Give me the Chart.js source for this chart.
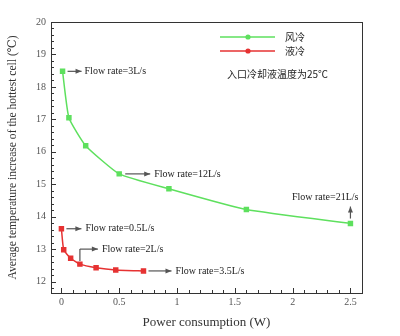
<!DOCTYPE html>
<html>
<head>
<meta charset="utf-8">
<script src="https://cdn.jsdelivr.net/npm/chart.js@4.4.1/dist/chart.umd.min.js"></script>
<style>
  html, body { margin: 0; padding: 0; background: #fff; }
  #wrap { width: 400px; height: 336px; }
</style>
</head>
<body>
<div id="wrap"><canvas id="chart"></canvas></div>
<script>
// air cooling (风冷) vs liquid cooling (液冷)
const airPower = [0.01, 0.065, 0.21, 0.5, 0.93, 1.6, 2.5];
const airTemp = [18.48, 17.05, 16.19, 15.32, 14.86, 14.22, 13.79];
const liquidPower = [0.0, 0.02, 0.08, 0.16, 0.3, 0.47, 0.71];
const liquidTemp = [13.63, 12.98, 12.72, 12.54, 12.43, 12.36, 12.33];
const xTicks = [0, 0.5, 1, 1.5, 2, 2.5];
const yTicks = [12, 13, 14, 15, 16, 17, 18, 19, 20];

const GREEN = '#5ee05e';
const RED = '#e63232';
const SERIF = '"Liberation Serif", "DejaVu Serif", serif';
const SANS = '"Noto Sans CJK SC", "Noto Sans", sans-serif';

function toPoints(xs, ys) {
    return xs.map((x, i) => ({ x, y: ys[i] }));
}

function arrow(ctx, x1, y1, x2, y2) {
    ctx.beginPath();
    ctx.moveTo(x1, y1);
    ctx.lineTo(x2, y2);
    ctx.stroke();
    const a = Math.atan2(y2 - y1, x2 - x1);
    ctx.beginPath();
    ctx.moveTo(x2, y2);
    ctx.lineTo(x2 - 6 * Math.cos(a) + 2.5 * Math.sin(a), y2 - 6 * Math.sin(a) - 2.5 * Math.cos(a));
    ctx.lineTo(x2 - 6 * Math.cos(a) - 2.5 * Math.sin(a), y2 - 6 * Math.sin(a) + 2.5 * Math.cos(a));
    ctx.closePath();
    ctx.fill();
}

// frame, inward minor ticks, flow-rate notes and the legend box
const decor = {
    id: 'decor',
    afterDatasetsDraw(chart) {
        const { ctx, chartArea: a, scales: { x, y } } = chart;
        ctx.save();
        ctx.strokeStyle = '#333';
        ctx.lineWidth = 1;
        ctx.strokeRect(a.left + 0.5, a.top + 0.5, a.right - a.left, a.bottom - a.top);

        ctx.beginPath();
        for (let v = 0; v <= 2.6; v += 0.1) {
            const px = Math.round(x.getPixelForValue(v)) + 0.5;
            const major = Math.abs(v * 2 - Math.round(v * 2)) < 1e-6;
            ctx.moveTo(px, a.bottom);
            ctx.lineTo(px, a.bottom - (major ? 5 : 3));
        }
        for (let v = 11.8; v <= 20.001; v += 0.2) {
            const py = Math.round(y.getPixelForValue(v)) + 0.5;
            const major = Math.abs(v - Math.round(v)) < 1e-6;
            ctx.moveTo(a.left, py);
            ctx.lineTo(a.left + (major ? 5 : 3), py);
        }
        ctx.stroke();

        // flow-rate annotations
        ctx.strokeStyle = '#555';
        ctx.fillStyle = '#555';
        ctx.lineWidth = 1.2;
        const P = (vx, vy) => [x.getPixelForValue(vx), y.getPixelForValue(vy)];
        ctx.font = '10px ' + SERIF;
        ctx.textBaseline = 'middle';
        ctx.textAlign = 'left';

        let [px, py] = P(airPower[0], airTemp[0]);
        arrow(ctx, px + 5, py, px + 19, py);
        ctx.fillStyle = '#222';
        ctx.fillText('Flow rate=3L/s', px + 22, py);

        [px, py] = P(airPower[3], airTemp[3]);
        ctx.fillStyle = '#555';
        arrow(ctx, px + 6, py, px + 31, py);
        ctx.fillStyle = '#222';
        ctx.fillText('Flow rate=12L/s', px + 35, py);

        [px, py] = P(airPower[6], airTemp[6]);
        ctx.fillStyle = '#555';
        arrow(ctx, px, py - 5, px, py - 17);
        ctx.fillStyle = '#222';
        ctx.textAlign = 'right';
        ctx.fillText('Flow rate=21L/s', px + 8, py - 26);
        ctx.textAlign = 'left';

        [px, py] = P(liquidPower[0], liquidTemp[0]);
        ctx.fillStyle = '#555';
        arrow(ctx, px + 5, py, px + 20, py);
        ctx.fillStyle = '#222';
        ctx.fillText('Flow rate=0.5L/s', px + 24, py);

        [px, py] = P(liquidPower[3], liquidTemp[3]);
        ctx.fillStyle = '#555';
        ctx.beginPath();
        ctx.moveTo(px, py - 3);
        ctx.lineTo(px, py - 15);
        ctx.stroke();
        arrow(ctx, px, py - 15, px + 18, py - 15);
        ctx.fillStyle = '#222';
        ctx.fillText('Flow rate=2L/s', px + 22, py - 15);

        [px, py] = P(liquidPower[6], liquidTemp[6]);
        ctx.fillStyle = '#555';
        arrow(ctx, px + 5, py, px + 28, py);
        ctx.fillStyle = '#222';
        ctx.fillText('Flow rate=3.5L/s', px + 32, py);

        // legend
        const items = [['风冷', GREEN, 37], ['液冷', RED, 51]];
        ctx.font = '10px ' + SANS;
        items.forEach(([label, color, ly]) => {
            ctx.strokeStyle = color;
            ctx.fillStyle = color;
            ctx.lineWidth = 1.3;
            ctx.beginPath();
            ctx.moveTo(220, ly);
            ctx.lineTo(275, ly);
            ctx.stroke();
            ctx.beginPath();
            ctx.arc(248, ly, 2.6, 0, Math.PI * 2);
            ctx.fill();
            ctx.fillStyle = '#222';
            ctx.fillText(label, 285, ly);
        });
        ctx.fillText('入口冷却液温度为25℃', 227, 74);
        ctx.restore();
    }
};

new Chart(document.getElementById('chart'), {
    type: 'line',
    data: {
        datasets: [
            { label: '风冷', data: toPoints(airPower, airTemp), borderColor: GREEN, backgroundColor: GREEN,
              borderWidth: 1.5, pointStyle: 'rect', pointRadius: 2.8, tension: 0.15 },
            { label: '液冷', data: toPoints(liquidPower, liquidTemp), borderColor: RED, backgroundColor: RED,
              borderWidth: 1.5, pointStyle: 'rect', pointRadius: 2.8, tension: 0.15 }
        ]
    },
    options: {
        responsive: true,
        maintainAspectRatio: false,
        animation: false,
        layout: { padding: { top: 22, right: 38, left: 0, bottom: 0 } },
        plugins: { legend: { display: false }, tooltip: { enabled: false } },
        scales: {
            x: {
                type: 'linear', min: -0.09, max: 2.6,
                afterBuildTicks: s => { s.ticks = xTicks.map(v => ({ value: v })); },
                afterFit: s => { s.height = 43; },
                grid: { display: false, drawTicks: false },
                border: { color: '#333' },
                ticks: { color: '#555', font: { family: SERIF, size: 10 }, padding: 3, callback: v => String(v) },
                title: { display: true, text: 'Power consumption (W)', color: '#333',
                         font: { family: SERIF, size: 13 }, padding: { top: 4, bottom: 6 } }
            },
            y: {
                type: 'linear', min: 11.65, max: 20,
                afterBuildTicks: s => { s.ticks = yTicks.map(v => ({ value: v })); },
                afterFit: s => { s.width = 51; },
                grid: { display: false, drawTicks: false },
                border: { color: '#333' },
                ticks: { color: '#555', font: { family: SERIF, size: 10 }, padding: 5, callback: v => String(v) },
                title: { display: true, text: 'Average temperature increase of the hottest cell (℃)', color: '#333',
                         font: { family: SERIF, size: 11.6 }, padding: { top: 6, bottom: 4 } }
            }
        }
    },
    plugins: [decor]
});
</script>
</body>
</html>
